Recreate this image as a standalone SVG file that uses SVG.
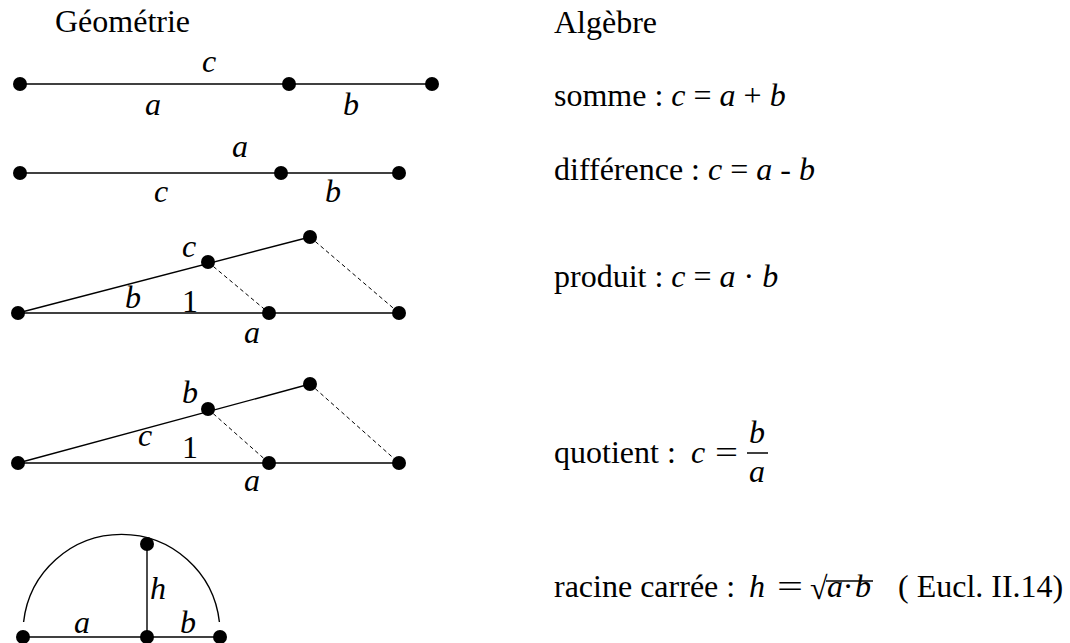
<svg xmlns="http://www.w3.org/2000/svg" width="1070" height="643" viewBox="0 0 1070 643">
<style>
text{font-family:"Liberation Serif","Times New Roman",serif;font-size:32px;fill:#000}
.i{font-style:italic}
.m{text-anchor:middle}
.ln{stroke:#000;stroke-width:1.4;fill:none}
.dash{stroke:#000;stroke-width:1;stroke-dasharray:4 3;fill:none}
.pt{fill:#000}
</style>
<rect width="1070" height="643" fill="#fff"/>
<g id="titles">
<text x="55" y="32">Géométrie</text>
<text x="554" y="33">Algèbre</text>
</g>
<g id="connectors">
<line class="ln" x1="20" y1="84" x2="432" y2="84"/>
<line class="ln" x1="20" y1="173" x2="399" y2="173"/>
<line class="ln" x1="18" y1="313" x2="399" y2="313"/>
<line class="ln" x1="18" y1="313" x2="310" y2="237"/>
<line class="dash" x1="208" y1="262" x2="269" y2="313"/>
<line class="dash" x1="310" y1="237" x2="399" y2="313"/>
<line class="ln" x1="18" y1="463" x2="399" y2="463"/>
<line class="ln" x1="18" y1="463" x2="310" y2="384"/>
<line class="dash" x1="208" y1="409" x2="269" y2="463"/>
<line class="dash" x1="310" y1="384" x2="399" y2="463"/>
<line class="ln" x1="23" y1="637" x2="220" y2="637"/>
<line class="ln" x1="147" y1="544" x2="147" y2="637"/>
<path class="ln" d="M23.6,622 A98.5,98.5 0 0 1 219.4,622"/>
</g>
<g id="somme-geo">
<circle class="pt" cx="20" cy="84" r="7"/>
<circle class="pt" cx="289" cy="84" r="7"/>
<circle class="pt" cx="432" cy="84" r="7"/>
<text class="i m" x="209" y="72">c</text>
<text class="i m" x="153" y="115">a</text>
<text class="i m" x="351" y="115">b</text>
</g>
<g id="difference-geo">
<circle class="pt" cx="20" cy="173" r="7"/>
<circle class="pt" cx="281" cy="173" r="7"/>
<circle class="pt" cx="399" cy="173" r="7"/>
<text class="i m" x="240" y="157">a</text>
<text class="i m" x="161" y="202">c</text>
<text class="i m" x="333" y="202">b</text>
</g>
<g id="produit-geo">
<circle class="pt" cx="18" cy="313" r="7"/>
<circle class="pt" cx="208" cy="262" r="7"/>
<circle class="pt" cx="310" cy="237" r="7"/>
<circle class="pt" cx="269" cy="313" r="7"/>
<circle class="pt" cx="399" cy="313" r="7"/>
<text class="i m" x="189" y="257">c</text>
<text class="i m" x="133" y="308">b</text>
<text class="m" x="190" y="312">1</text>
<text class="i m" x="252" y="343">a</text>
</g>
<g id="quotient-geo">
<circle class="pt" cx="18" cy="463" r="7"/>
<circle class="pt" cx="208" cy="409" r="7"/>
<circle class="pt" cx="310" cy="384" r="7"/>
<circle class="pt" cx="269" cy="463" r="7"/>
<circle class="pt" cx="399" cy="463" r="7"/>
<text class="i m" x="190" y="403">b</text>
<text class="i m" x="145" y="446">c</text>
<text class="m" x="190" y="458">1</text>
<text class="i m" x="252" y="491">a</text>
</g>
<g id="racine-geo">
<circle class="pt" cx="23" cy="637" r="7"/>
<circle class="pt" cx="147" cy="637" r="7"/>
<circle class="pt" cx="220" cy="637" r="7"/>
<circle class="pt" cx="147" cy="544" r="7"/>
<text class="i" x="150" y="599">h</text>
<text class="i m" x="82" y="633">a</text>
<text class="i m" x="188" y="633">b</text>
</g>
<g id="somme-alg">
<text x="554" y="106">somme : <tspan class="i">c</tspan> = <tspan class="i">a</tspan> + <tspan class="i">b</tspan></text>
</g>
<g id="difference-alg">
<text x="554" y="180">différence : <tspan class="i">c</tspan> = <tspan class="i">a</tspan> - <tspan class="i">b</tspan></text>
</g>
<g id="produit-alg">
<text x="554" y="287">produit : <tspan class="i">c</tspan> = <tspan class="i">a</tspan> · <tspan class="i">b</tspan></text>
</g>
<g id="quotient-alg">
<text x="554" y="463">quotient :</text>
<text class="i" x="691" y="463">c</text>
<text x="715" y="463" textLength="23" lengthAdjust="spacingAndGlyphs">=</text>
<text class="i m" x="757" y="443">b</text>
<line x1="747" y1="453" x2="768" y2="453" stroke="#000" stroke-width="1.5"/>
<text class="i m" x="757" y="482">a</text>
</g>
<g id="racine-alg">
<text x="554" y="597">racine carrée :</text>
<text class="i" x="749" y="597">h</text>
<text x="777" y="597" textLength="26" lengthAdjust="spacingAndGlyphs">=</text>
<text x="810" y="599">√</text>
<line x1="826" y1="581" x2="873" y2="581" stroke="#000" stroke-width="1.5"/>
<text class="i" x="827" y="597">a</text>
<text class="m" x="848" y="597">·</text>
<text class="i" x="855" y="597">b</text>
<text x="898" y="597">( Eucl. II.14)</text>
</g>
</svg>
